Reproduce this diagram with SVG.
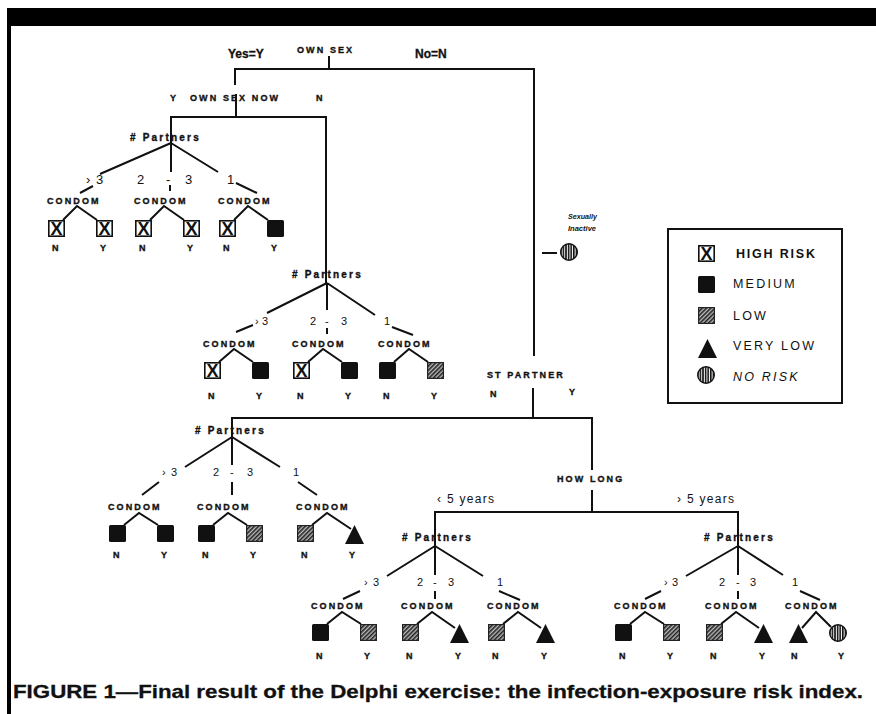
<svg xmlns="http://www.w3.org/2000/svg" xmlns:xlink="http://www.w3.org/1999/xlink" width="876" height="714" viewBox="0 0 876 714">
<style>
.ln{fill:none;stroke:#111;stroke-width:2;stroke-linejoin:miter}
text{fill:#111;font-family:"Liberation Sans",Arial,sans-serif}
.lb{font-size:9px;font-weight:bold;letter-spacing:2.1px;stroke:#111;stroke-width:0.35px}
.pt{font-size:10px;font-weight:bold;letter-spacing:2.2px;stroke:#111;stroke-width:0.35px}
.cd{font-size:9px;font-weight:bold;letter-spacing:2.1px;stroke:#111;stroke-width:0.35px}
.ny{font-size:9px;font-weight:bold;stroke:#111;stroke-width:0.35px}
.br{font-size:11px}
.br1{font-size:13px}
.big{font-size:12px;font-weight:bold;stroke:#111;stroke-width:0.3px}
.lg{font-size:12.5px;letter-spacing:2.2px}
.lgb{font-weight:bold;letter-spacing:1.8px}
.lgi{font-style:italic}
.si{font-size:8px;font-weight:bold;font-style:italic;fill:#111}
.yr{font-size:12px;letter-spacing:1.3px}
.cap{font-size:18.5px;font-weight:bold;stroke:#111;stroke-width:0.3px}
.xg{font-size:18px;font-weight:bold}
</style>
<defs>
<pattern id="hatch" width="3" height="3" patternUnits="userSpaceOnUse" patternTransform="rotate(45)">
<rect width="3" height="3" fill="#bbb"/><line x1="0.8" y1="0" x2="0.8" y2="3" stroke="#222" stroke-width="1.6"/>
</pattern>
<pattern id="vstripe" width="2.6" height="4" patternUnits="userSpaceOnUse">
<rect width="2.6" height="4" fill="#fff"/><rect width="1.6" height="4" fill="#111"/>
</pattern>
<g id="hi"><rect x="0.8" y="0.8" width="15.4" height="15.4" fill="#fff" stroke="#111" stroke-width="1.6"/><text x="8.5" y="15.3" text-anchor="middle" class="xg">X</text></g>
<g id="med"><rect width="17" height="17" rx="1.5" fill="#111"/></g>
<g id="low"><rect x="0.6" y="0.6" width="15.8" height="15.8" fill="url(#hatch)" stroke="#222" stroke-width="1.2"/></g>
<g id="vlow"><polygon points="0,19 9.5,0 19,19" fill="#111"/></g>
<g id="none"><circle cx="9" cy="9" r="8.3" fill="url(#vstripe)" stroke="#111" stroke-width="1.4"/></g>
</defs>
<rect width="876" height="714" fill="#fff"/>
<g id="frame">
<rect x="7" y="8" width="869" height="18" fill="#000"/>
<rect x="7" y="8" width="4" height="706" fill="#000"/>
</g>
<g id="connectors" class="ln">
<path d="M235,85 V69 H534 V356 M329,56 V69 M236,94 V117 M171,143 V117 H326 V283"/>
<path d="M171,143 L100,174 M171,143 V172 M171,143 L218,172 M93,186 L80,193 M170,185 V191 M236,183 L257,193"/>
<path d="M63,220 L77,206 L97,220 M150,220 L164,206 L184,220 M234,220 L248,206 L268,220"/>
<path d="M327,283 L267,313 M327,283 V310 M327,283 L375,315 M253,325 L236,332 M327,328 V334 M392,327 L413,335"/>
<path d="M219,362 L234,349 L253,362 M308,362 L323,349 L342,362 M394,362 L409,349 L428,362"/>
<path d="M542,253 H557"/>
<path d="M533,388 V418 M232,437 V418 H592 V470"/>
<path d="M232,437 L185,467 M232,437 V465 M232,437 L280,467 M159,482 L142,495 M232,482 V495 M298,482 L317,495"/>
<path d="M124,525 L139,513 L158,525 M213,525 L228,513 L247,525 M312,525 L327,513 L351,529"/>
<path d="M592,490 V512 M435,546 V512 H738 V546"/>
<path d="M435,546 L387,576 M435,546 V575 M435,546 L483,576 M360,591 L343,599 M435,591 V599 M499,591 L520,600"/>
<path d="M327,624 L342,612 L361,624 M417,624 L432,612 L455,628 M503,624 L518,612 L541,628"/>
<path d="M738,546 L686,576 M738,546 V575 M738,546 L783,575 M661,591 L645,599 M738,591 V599 M800,591 L820,600"/>
<path d="M630,624 L645,612 L664,624 M721,624 L736,612 L759,628 M802,628 L816,612 L831,627"/>
</g>
<g id="own-sex">
<text class="lb" x="297" y="53">OWN SEX</text>
<text class="big" x="228" y="58">Yes=Y</text>
<text class="big" x="415" y="58">No=N</text>
</g>
<g id="own-sex-now">
<text class="lb" x="170" y="101">Y</text>
<text class="lb" x="190" y="101">OWN SEX NOW</text>
<text class="lb" x="316" y="101">N</text>
</g>
<g id="partners-1">
<text class="pt" x="130" y="141"># Partners</text>
<text class="br1" x="86" y="184">›</text><text class="br1" x="96" y="184">3</text>
<text class="br1" x="137" y="184">2</text><text class="br1" x="166" y="184">-</text><text class="br1" x="185" y="184">3</text>
<text class="br1" x="227" y="184">1</text>
</g>
<g id="condom-1a"><text class="cd" x="47" y="204">CONDOM</text><use href="#hi" x="48" y="220"/><use href="#hi" x="96" y="220"/><text class="ny" x="52" y="251">N</text><text class="ny" x="100" y="251">Y</text></g>
<g id="condom-1b"><text class="cd" x="134" y="204">CONDOM</text><use href="#hi" x="135" y="220"/><use href="#hi" x="183" y="220"/><text class="ny" x="139" y="251">N</text><text class="ny" x="187" y="251">Y</text></g>
<g id="condom-1c"><text class="cd" x="218" y="204">CONDOM</text><use href="#hi" x="219" y="220"/><use href="#med" x="267" y="220"/><text class="ny" x="223" y="251">N</text><text class="ny" x="271" y="251">Y</text></g>
<g id="partners-2">
<text class="pt" x="292" y="278"># Partners</text>
<text class="br" x="255" y="325">›</text><text class="br" x="262" y="325">3</text>
<text class="br" x="310" y="325">2</text><text class="br" x="325" y="325">-</text><text class="br" x="341" y="325">3</text>
<text class="br" x="384" y="325">1</text>
</g>
<g id="condom-2a"><text class="cd" x="203" y="347">CONDOM</text><use href="#hi" x="204" y="362"/><use href="#med" x="252" y="362"/><text class="ny" x="208" y="399">N</text><text class="ny" x="256" y="399">Y</text></g>
<g id="condom-2b"><text class="cd" x="292" y="347">CONDOM</text><use href="#hi" x="293" y="362"/><use href="#med" x="341" y="362"/><text class="ny" x="297" y="399">N</text><text class="ny" x="345" y="399">Y</text></g>
<g id="condom-2c"><text class="cd" x="378" y="347">CONDOM</text><use href="#med" x="379" y="362"/><use href="#low" x="427" y="362"/><text class="ny" x="383" y="399">N</text><text class="ny" x="431" y="399">Y</text></g>
<g id="sexually-inactive">
<text class="si" x="568" y="219" textLength="29" lengthAdjust="spacingAndGlyphs">Sexually</text>
<text class="si" x="568" y="231" textLength="28" lengthAdjust="spacingAndGlyphs">Inactive</text>
<use href="#none" x="560" y="243"/>
</g>
<g id="st-partner">
<text class="lb" x="487" y="378">ST PARTNER</text>
<text class="lb" x="490" y="397">N</text>
<text class="lb" x="569" y="395">Y</text>
</g>
<g id="partners-3">
<text class="pt" x="195" y="434"># Partners</text>
<text class="br" x="162" y="476">›</text><text class="br" x="171" y="476">3</text>
<text class="br" x="213" y="476">2</text><text class="br" x="230" y="476">-</text><text class="br" x="247" y="476">3</text>
<text class="br" x="293" y="476">1</text>
</g>
<g id="condom-3a"><text class="cd" x="108" y="510">CONDOM</text><use href="#med" x="109" y="525"/><use href="#med" x="157" y="525"/><text class="ny" x="113" y="558">N</text><text class="ny" x="161" y="558">Y</text></g>
<g id="condom-3b"><text class="cd" x="197" y="510">CONDOM</text><use href="#med" x="198" y="525"/><use href="#low" x="246" y="525"/><text class="ny" x="202" y="558">N</text><text class="ny" x="250" y="558">Y</text></g>
<g id="condom-3c"><text class="cd" x="296" y="510">CONDOM</text><use href="#low" x="297" y="525"/><use href="#vlow" x="345" y="525"/><text class="ny" x="301" y="558">N</text><text class="ny" x="349" y="558">Y</text></g>
<g id="how-long">
<text class="lb" x="557" y="482">HOW LONG</text>
<text class="yr" x="437" y="503">‹ 5 years</text>
<text class="yr" x="677" y="503">› 5 years</text>
</g>
<g id="partners-4">
<text class="pt" x="402" y="541"># Partners</text>
<text class="br" x="364" y="586">›</text><text class="br" x="373" y="586">3</text>
<text class="br" x="417" y="586">2</text><text class="br" x="433" y="586">-</text><text class="br" x="448" y="586">3</text>
<text class="br" x="497" y="586">1</text>
</g>
<g id="condom-4a"><text class="cd" x="311" y="609">CONDOM</text><use href="#med" x="312" y="624"/><use href="#low" x="360" y="624"/><text class="ny" x="316" y="659">N</text><text class="ny" x="364" y="659">Y</text></g>
<g id="condom-4b"><text class="cd" x="401" y="609">CONDOM</text><use href="#low" x="402" y="624"/><use href="#vlow" x="450" y="624"/><text class="ny" x="406" y="659">N</text><text class="ny" x="455" y="659">Y</text></g>
<g id="condom-4c"><text class="cd" x="487" y="609">CONDOM</text><use href="#low" x="488" y="624"/><use href="#vlow" x="536" y="624"/><text class="ny" x="492" y="659">N</text><text class="ny" x="541" y="659">Y</text></g>
<g id="partners-5">
<text class="pt" x="704" y="541"># Partners</text>
<text class="br" x="664" y="586">›</text><text class="br" x="672" y="586">3</text>
<text class="br" x="719" y="586">2</text><text class="br" x="736" y="586">-</text><text class="br" x="750" y="586">3</text>
<text class="br" x="792" y="586">1</text>
</g>
<g id="condom-5a"><text class="cd" x="614" y="609">CONDOM</text><use href="#med" x="615" y="624"/><use href="#low" x="663" y="624"/><text class="ny" x="619" y="659">N</text><text class="ny" x="667" y="659">Y</text></g>
<g id="condom-5b"><text class="cd" x="705" y="609">CONDOM</text><use href="#low" x="706" y="624"/><use href="#vlow" x="754" y="624"/><text class="ny" x="710" y="659">N</text><text class="ny" x="759" y="659">Y</text></g>
<g id="condom-5c"><text class="cd" x="785" y="609">CONDOM</text><use href="#vlow" x="789" y="624"/><use href="#none" x="829" y="624"/><text class="ny" x="791" y="659">N</text><text class="ny" x="838" y="659">Y</text></g>
<g id="legend">
<rect x="668" y="229" width="174" height="174" fill="#fff" stroke="#111" stroke-width="2"/>
<use href="#hi" x="698" y="245"/><text class="lg lgb" x="736" y="258">HIGH RISK</text>
<use href="#med" x="698" y="276"/><text class="lg" x="733" y="288">MEDIUM</text>
<use href="#low" x="698" y="307"/><text class="lg" x="733" y="320">LOW</text>
<use href="#vlow" x="698" y="339"/><text class="lg" x="733" y="350">VERY LOW</text>
<use href="#none" x="697" y="366"/><text class="lg lgi" x="733" y="381">NO RISK</text>
</g>
<g id="caption">
<text class="cap" x="13" y="698" textLength="850" lengthAdjust="spacingAndGlyphs">FIGURE 1—Final result of the Delphi exercise: the infection-exposure risk index.</text>
</g>
</svg>
